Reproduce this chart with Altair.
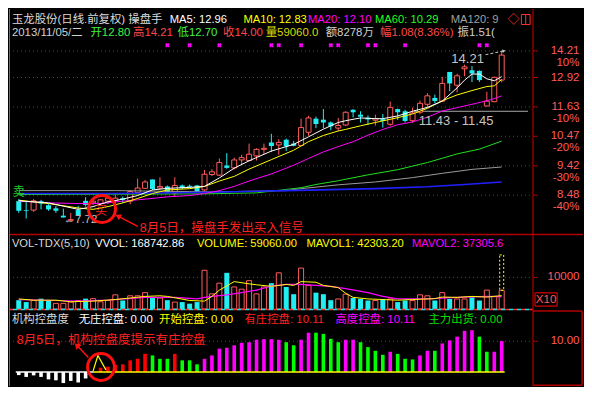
import altair as alt
import pandas as pd

# ---------------- data ----------------
opens = [8.30, 8.04, 8.04, 8.30, 8.18, 8.09, 7.88, 7.75, 8.04, 8.31,
         8.25, 8.23, 8.30, 8.32, 8.39, 8.30, 8.56, 8.69, 8.97, 8.70,
         8.75, 8.54, 8.78, 8.77, 8.78, 8.64, 9.13, 9.11, 9.43, 9.35,
         9.62, 9.60, 9.76, 9.99, 10.24, 10.15, 10.34, 10.20, 10.13, 10.62,
         11.15, 11.11, 11.00, 10.78, 10.90, 11.51, 11.31, 11.19, 11.09, 11.13,
         10.93, 11.54, 11.45, 11.07, 11.41, 11.74, 12.01, 11.87, 13.18, 12.57,
         13.33, 13.26, 13.23, 11.67, 11.85, 12.80]
highs = [8.36, 8.30, 8.36, 8.34, 8.21, 8.16, 8.08, 7.96, 8.16, 8.42,
         8.36, 8.36, 8.44, 8.51, 8.44, 8.64, 9.00, 8.95, 8.97, 9.04,
         8.78, 9.04, 8.81, 8.81, 8.80, 9.28, 9.31, 9.67, 9.86, 9.70,
         9.80, 10.20, 10.03, 10.20, 10.56, 10.36, 10.38, 10.30, 11.15, 11.27,
         11.23, 11.54, 11.04, 11.18, 11.45, 11.54, 11.45, 11.28, 11.31, 11.34,
         11.85, 11.56, 11.51, 11.60, 11.90, 12.22, 12.15, 12.95, 13.18, 13.10,
         13.53, 13.46, 13.25, 12.28, 12.96, 14.21]
lows = [7.96, 7.80, 7.99, 8.06, 8.02, 7.96, 7.83, 7.72, 7.87, 8.14,
        8.18, 8.18, 8.21, 8.14, 8.25, 8.21, 8.54, 8.67, 8.64, 8.66,
        8.54, 8.44, 8.67, 8.70, 8.56, 8.59, 9.08, 9.09, 9.32, 9.30,
        9.45, 9.57, 9.60, 9.83, 9.90, 9.80, 9.93, 10.10, 10.10, 10.49,
        10.78, 10.78, 10.70, 10.67, 10.86, 11.20, 11.00, 10.90, 10.88, 10.80,
        10.87, 11.10, 11.00, 10.98, 11.33, 11.60, 11.78, 11.85, 12.30, 12.25,
        12.98, 12.71, 12.72, 11.65, 11.83, 12.70]
closes = [8.02, 8.02, 8.31, 8.23, 8.06, 8.02, 7.83, 7.77, 7.90, 8.19,
          8.30, 8.34, 8.39, 8.39, 8.34, 8.59, 8.70, 8.89, 8.67, 8.75,
          8.56, 8.78, 8.70, 8.74, 8.59, 9.14, 9.22, 9.53, 9.35, 9.62,
          9.70, 9.82, 9.99, 10.03, 10.11, 10.24, 10.10, 10.12, 10.80, 11.18,
          10.94, 11.00, 10.85, 10.88, 11.41, 11.41, 11.23, 11.12, 11.15, 11.06,
          11.61, 11.41, 11.06, 11.38, 11.78, 12.10, 11.88, 12.65, 12.65, 13.00,
          13.42, 13.11, 12.80, 11.87, 12.93, 14.00]

ma5_idx = [0, 4, 8, 10, 12, 14, 16, 18, 20, 23, 25, 27, 29, 31, 34, 37, 39, 41, 43, 44,
           46, 48, 49, 51, 53, 55, 57, 59, 60, 61, 62, 63, 64, 65]
ma5_val = [8.31, 8.25, 8.06, 8.14, 8.28, 8.36, 8.47, 8.64, 8.69, 8.72, 8.75, 9.02, 9.34, 9.59,
           9.93, 10.17, 10.45, 10.74, 11.00, 11.07, 11.18, 11.15, 11.15, 11.26, 11.45, 11.61,
           11.87, 12.45, 12.80, 13.08, 13.08, 12.86, 12.77, 12.96]
ma10_idx = [0, 4, 8, 10, 12, 14, 16, 18, 20, 23, 25, 27, 29, 31, 34, 37, 39, 41, 43, 44,
            46, 48, 51, 53, 55, 57, 59, 61, 63, 64, 65]
ma10_val = [8.33, 8.23, 8.10, 8.06, 8.14, 8.25, 8.38, 8.53, 8.64, 8.68, 8.75, 8.92, 9.07, 9.31,
            9.63, 9.96, 10.27, 10.50, 10.67, 10.73, 10.87, 11.00, 11.19, 11.34, 11.57, 11.89,
            12.14, 12.33, 12.51, 12.54, 12.83]
ma20_idx = [0, 4, 8, 11, 14, 17, 20, 23, 25, 27, 29, 31, 34, 37, 39, 41, 43, 45, 47, 49,
            51, 53, 55, 57, 59, 61, 63, 64, 65]
ma20_val = [8.30, 8.25, 8.23, 8.23, 8.30, 8.36, 8.43, 8.47, 8.53, 8.62, 8.75, 8.92, 9.15, 9.44,
            9.67, 9.90, 10.09, 10.27, 10.51, 10.73, 10.91, 11.02, 11.21, 11.46, 11.60, 11.74,
            11.89, 11.98, 12.10]
ma60_idx = [0, 25, 32, 38, 40, 43, 47, 51, 55, 59, 62, 65]
ma60_val = [8.50, 8.52, 8.55, 8.71, 8.81, 8.93, 9.12, 9.29, 9.53, 9.83, 10.00, 10.29]
ma120_idx = [0, 13, 26, 36, 38, 43, 48, 53, 57, 61, 65]
ma120_val = [8.62, 8.62, 8.58, 8.62, 8.68, 8.80, 8.89, 9.03, 9.17, 9.30, 9.38]
ma250_idx = [0, 13, 26, 36, 42, 48, 55, 60, 65]
ma250_val = [8.53, 8.53, 8.57, 8.62, 8.65, 8.68, 8.74, 8.81, 8.89]

signal_idx = [20, 23, 27, 34, 35, 38, 42, 43, 47, 48, 52, 62, 63]
gap = [11.43, 11.45]
gap_start = 53.2
price_ticks = [14.21, 12.92, 11.63, 10.47, 9.42, 8.48]
price_pcts = ["10%", "", "-10%", "-20%", "-30%", "-40%"]

volumes = [2790, 2190, 2690, 3280, 2690, 1790, 1790, 2190, 2690, 3280,
           3280, 2290, 2690, 4480, 2690, 4180, 4180, 5170, 3480, 3480,
           2790, 2190, 2190, 1690, 2190, 12240, 4780, 8160, 11440, 6970,
           6270, 8960, 4780, 6970, 8160, 11440, 6970, 4680, 12940, 7460,
           5170, 4680, 2790, 3180, 4680, 3480, 3180, 2690, 2690, 3180,
           3180, 2190, 2690, 2690, 4480, 4180, 2690, 5170, 3180, 3180,
           3180, 3680, 2690, 5970, 3980, 5906]
vol_up = [0, 0, 1, 0, 0, 1, 1, 1, 1, 0, 1, 1, 1, 1, 0, 1, 1, 1, 0, 1,
          0, 1, 0, 0, 0, 1, 1, 1, 0, 1, 1, 1, 1, 1, 0, 1, 0, 0, 1, 1,
          0, 0, 0, 1, 1, 0, 0, 0, 1, 0, 1, 0, 0, 1, 1, 1, 0, 1, 0, 1,
          1, 0, 0, 1, 1, 1]
mv1_idx = [0, 2, 5, 7, 10, 13, 15, 17, 19, 20, 23, 25, 26, 27, 29, 31, 32, 34, 36, 37,
           38, 40, 41, 43, 44, 45, 47, 49, 51, 53, 56, 57, 59, 61, 63, 65]
mv1_val = [3180, 2790, 2790, 2290, 2490, 2990, 3480, 3980, 4180, 3980, 2690, 2490, 3980, 5970,
           8660, 7960, 7660, 7160, 7760, 7460, 8660, 8460, 7460, 6770, 4980, 3680, 3180, 2990,
           2790, 2990, 3280, 3780, 3680, 3980, 3780, 4230]
mv2_idx = [0, 5, 8, 12, 17, 21, 24, 25, 26, 28, 30, 32, 34, 36, 38, 40, 42, 44, 47, 49,
           51, 55, 59, 63, 65]
mv2_val = [2990, 2690, 2490, 2790, 3680, 3680, 3180, 3680, 3980, 4480, 5170, 5970, 7260, 7760,
           7760, 7460, 7160, 6470, 5170, 3980, 3180, 3180, 3680, 3980, 3900]
vol_proj = 17100
vol_ticks = [10000]

ctrl_vals = [-1.0, -1.6, -1.1, -1.6, -2.4, -2.7, -3.6, -2.9, -3.4, -2.1,
             0, 1.4, 1.75, 2.3, 2.5, 3.8, 4.3, 5.9, 5.4, 4.3,
             4.3, 5.9, 3.8, 3.8, 2.5, 4.3, 5.4, 7.6, 7.9, 8.7,
             9.5, 9.7, 10.5, 10.7, 10.7, 10.5, 9.7, 8.7, 10.5, 12.8,
             12.8, 12.4, 10.8, 9.7, 10.5, 10.5, 9.7, 8.1, 6.9, 5.6,
             6.6, 5.9, 4.3, 4.1, 5.4, 6.9, 6.9, 9.3, 10.3, 11.5,
             13.4, 13.6, 11.5, 6.6, 6.6, 10.11]
ctrl_kind = (["w"] * 10 + ["n"] + ["r"] * 7 + ["g"] * 3 + ["r"] + ["g"] * 3 + ["m"] * 11 +
             ["g"] * 2 + ["m"] * 2 + ["g"] * 4 + ["m"] * 2 + ["g"] * 4 + ["m"] + ["g"] * 3 +
             ["m"] * 2 + ["g"] + ["m"] * 5 + ["g"] * 2 + ["m"] * 2)
tri_x = [9.99, 10.65, 11.73]
tri_y = [0.2, 5.36, 0.7]
ctrl_ticks = [10.00]

# ---------------- styling ----------------
W = 524
H1, H2, H3 = 225, 75, 77
FONT = "Liberation Sans, Noto Sans CJK SC"
HS = 11.2  # header font size
UP = "#ff5c5c"
DN = "#22eef2"
GRID = "#c01818"
BORDER = "#b00000"
LBL = "#ff5a5a"
GRAYT = "#c4c4c4"
YEL = "#ffff00"
MAG = "#ff00ff"
GRN = "#22ff22"
RED = "#ff3030"
KIND_COL = {"w": "#ffffff", "r": "#ff0000", "g": "#00ff00", "m": "#ff00ff"}

XS = alt.Scale(domain=[-0.64, 68.54], nice=False, zero=False)
PS = alt.Scale(type="log", domain=[7.38, 16.51], nice=False)
VS = alt.Scale(domain=[0, 23720], nice=False, zero=False)
CS = alt.Scale(domain=[-4.55, 20.5], nice=False, zero=False)

ONE = pd.DataFrame({"k": [0]})


def X(f="i"):
    return alt.X(f"{f}:Q", scale=XS, axis=None)


def Y(f, sc):
    return alt.Y(f"{f}:Q", scale=sc, axis=None)


def txt(s, x, y, color, size=HS, align="left", **kw):
    return alt.Chart(ONE).mark_text(text=s, align=align, baseline="middle", fontSize=size,
                                    color=color, font=FONT, **kw).encode(
        x=alt.value(x), y=alt.value(y))


def seg(x1, y1, x2, y2, color, width=1, dash=None, **kw):
    m = dict(color=color, strokeWidth=width, **kw)
    if dash:
        m["strokeDash"] = dash
    return alt.Chart(ONE).mark_rule(**m).encode(
        x=alt.value(x1), y=alt.value(y1), x2=alt.value(x2), y2=alt.value(y2))


def head(x, y, ang, size=45, color=RED):
    return alt.Chart(ONE).mark_point(shape="triangle-up", filled=True, size=size, angle=ang,
                                     color=color, opacity=1).encode(x=alt.value(x), y=alt.value(y))


def ring(x, y, size):
    return alt.Chart(ONE).mark_point(shape="circle", filled=False, size=size, strokeWidth=3,
                                     color="#ff1010", opacity=1).encode(x=alt.value(x), y=alt.value(y))


def line_df(idx, val):
    return pd.DataFrame({"i": idx, "v": val})


N = len(closes)
cd = pd.DataFrame({"i": list(range(N)), "o": opens, "h": highs, "l": lows, "c": closes})
cd["up"] = cd["c"] >= cd["o"]
up_df = cd[cd["up"]]
dn_df = cd[~cd["up"]]

# ---------------- price panel ----------------
pt = pd.DataFrame({"v": price_ticks, "lab": [f"{v:.2f}" for v in price_ticks], "pct": price_pcts})
grid1 = alt.Chart(pt).mark_rule(color=GRID, strokeDash=[1, 3]).encode(
    y=Y("v", PS), x=alt.value(0), x2=alt.value(W))
gap_df = pd.DataFrame({"x1": [gap_start], "x2": [68.54], "v": [gap[1]]})
gapline = alt.Chart(gap_df).mark_rule(color="#a8a8a8").encode(
    x=X("x1"), x2=alt.X2("x2"), y=Y("v", PS))


def ma(idx, val, color, w=1.0):
    return alt.Chart(line_df(idx, val)).mark_line(color=color, strokeWidth=w).encode(
        x=X(), y=Y("v", PS))


wick_up = alt.Chart(up_df).mark_rule(color=UP).encode(x=X(), y=Y("l", PS), y2=alt.Y2("h"))
wick_dn = alt.Chart(dn_df).mark_rule(color=DN).encode(x=X(), y=Y("l", PS), y2=alt.Y2("h"))
body_up = alt.Chart(up_df).mark_bar(size=5, fill="black", stroke=UP, strokeWidth=1).encode(
    x=X(), y=Y("o", PS), y2=alt.Y2("c"))
body_dn = alt.Chart(dn_df).mark_bar(size=5, color=DN).encode(
    x=X(), y=Y("o", PS), y2=alt.Y2("c"))

signals = alt.Chart(pd.DataFrame({"i": signal_idx})).mark_point(
    shape="cross", filled=True, size=22, angle=45, color=MAG, opacity=1).encode(
    x=X(), y=alt.value(36.2))

plab = alt.Chart(pt).mark_text(align="right", baseline="middle", fontSize=11.5, color=LBL,
                               font=FONT).encode(y=Y("v", PS), x=alt.value(570.5), text="lab:N")
ppct = alt.Chart(pt).mark_text(align="right", baseline="middle", fontSize=11.5, color=LBL,
                               font=FONT, dy=12).encode(y=Y("v", PS), x=alt.value(570.5),
                                                        text="pct:N")
ptick = alt.Chart(pt).mark_rule(color=BORDER).encode(
    y=Y("v", PS), x=alt.value(W), x2=alt.value(W + 5))

price_layers = [
    grid1, gapline,
    wick_up, wick_dn, body_up, body_dn,
    ma(ma120_idx, ma120_val, "#9a9a9a"),
    ma(ma60_idx, ma60_val, "#20e020"),
    ma(ma250_idx, ma250_val, "#2020ff", 1.6),
    ma(ma20_idx, ma20_val, MAG),
    ma(ma10_idx, ma10_val, YEL),
    ma(ma5_idx, ma5_val, "#ffffff"),
    signals,
    # header
    txt("玉龙股份(日线.前复权) 操盘手", 2.9, 10.5, "#dcdcdc", 11.4),
    txt("MA5: 12.96", 160.8, 10.5, "#ffffff"),
    txt("MA10: 12.83", 234.4, 10.5, YEL),
    txt("MA20: 12.10", 299.0, 10.5, MAG),
    txt("MA60: 10.29", 366.0, 10.5, GRN),
    txt("MA120: 9.38", 441.7, 10.5, "#a0a0a0", limit=52, ellipsis=" "),
    txt("◇", 504.6, 10.5, RED, 12, "center"),
    txt("2013/11/05/二", 2.9, 24.3, "#d0d0d0", 11.4),
    txt("开12.80", 81.4, 24.3, "#40f040", 11.4),
    txt("高14.21", 124.0, 24.3, "#ff4848", 11.4),
    txt("低12.70", 168.5, 24.3, "#40f040", 11.4),
    txt("收14.00", 214.0, 24.3, "#ff4848", 11.4),
    txt("量59060.0", 256.7, 24.3, "#d8d800", 11.4),
    txt("额8278万", 316.7, 24.3, "#d0d0d0", 11.4),
    txt("幅1.08(8.36%)", 371.0, 24.3, "#ff4848", 11.4),
    txt("振1.51(1.18%)", 448.5, 24.3, "#d0d0d0", 11.4, limit=45, ellipsis=" "),
    # annotations
    txt("14.21", 458.6, 49.6, GRAYT, 13, "center"),
    seg(476.5, 45.7, 494.0, 42.1, GRAYT, 1, [3, 2]),
    head(495.0, 41.9, 78, 14, GRAYT),
    txt("11.43 - 11.45", 409.7, 111.5, GRAYT, 13),
    txt("←7.72", 54.5, 210.5, GRAYT, 11.5),
    txt("卖", 9.7, 183.0, "#20d020", 12, "center"),
    txt("买", 92.0, 202.0, "#ff2020", 12, "center"),
    ring(93.0, 200.0, 730),
    seg(128.8, 217.3, 111.0, 208.1, "#ff1010", 1.5),
    head(109.0, 207.0, 298, 45, "#ff1010"),
    txt("8月5日，操盘手发出买入信号", 130.8, 219.2, "#ff2020", 12.5),
    # axis side
    plab, ppct, ptick,
    seg(W, 0, W, H1, BORDER, 1.2),
    seg(0.5, 0, 0.5, H1, "#707070", 1),
    seg(512.4, 5.5, 521.1, 5.5, RED, 1), seg(512.4, 15.5, 521.1, 15.5, RED, 1),
    seg(512.4, 5.5, 512.4, 15.5, RED, 1), seg(521.1, 5.5, 521.1, 15.5, RED, 1),
    seg(516.7, 5.5, 516.7, 15.5, RED, 1),
]
price = alt.layer(*price_layers).properties(width=W, height=H1)

# ---------------- volume panel ----------------
vd = pd.DataFrame({"i": list(range(N)), "v": volumes, "up": vol_up})
vd["b"] = 0
vup = vd[vd["up"] == 1]
vdn = vd[vd["up"] == 0]
vt = pd.DataFrame({"v": vol_ticks, "lab": [str(v) for v in vol_ticks]})
proj = pd.DataFrame({"i": [N - 1], "v": [volumes[-1]], "t": [vol_proj]})

vol_layers = [
    alt.Chart(vt).mark_rule(color=GRID, strokeDash=[1, 3]).encode(
        y=Y("v", VS), x=alt.value(0), x2=alt.value(W)),
    alt.Chart(vup).mark_bar(size=5, fill="black", stroke=UP, strokeWidth=1).encode(
        x=X(), y=Y("v", VS), y2=alt.Y2("b")),
    alt.Chart(vdn).mark_bar(size=5, color=DN).encode(
        x=X(), y=Y("v", VS), y2=alt.Y2("b")),
    alt.Chart(proj).mark_bar(size=4, fillOpacity=0, stroke=YEL, strokeWidth=1,
                             strokeDash=[2, 2]).encode(x=X(), y=Y("v", VS), y2=alt.Y2("t")),
    alt.Chart(line_df(mv2_idx, mv2_val)).mark_line(color=MAG, strokeWidth=1.2).encode(
        x=X(), y=Y("v", VS)),
    alt.Chart(line_df(mv1_idx, mv1_val)).mark_line(color=YEL, strokeWidth=1).encode(
        x=X(), y=Y("v", VS)),
    txt("VOL-TDX(5,10)", 2.9, 10, "#d8d8d8"),
    txt("VVOL: 168742.86", 86.2, 10, "#ffffff"),
    txt("VOLUME: 59060.00", 187.9, 10, YEL),
    txt("MAVOL1: 42303.20", 297.4, 10, YEL),
    txt("MAVOL2: 37305.6", 403.0, 10, MAG),
    alt.Chart(vt).mark_text(align="right", baseline="middle", fontSize=11.5, color=LBL,
                            font=FONT).encode(y=Y("v", VS), x=alt.value(570.5), text="lab:N"),
    alt.Chart(vt).mark_rule(color=BORDER).encode(y=Y("v", VS), x=alt.value(W), x2=alt.value(W + 5)),
    seg(0, 0.5, 574, 0.5, BORDER, 1.5),
    seg(W, 0, W, H2, BORDER, 1.2),
    seg(0.5, 0, 0.5, H2, "#707070", 1),
    seg(526, 58.8, 548.2, 58.8, BORDER, 1.5), seg(526, 72.1, 548.2, 72.1, BORDER, 1.5),
    seg(526, 58.8, 526, 72.1, BORDER, 1.5), seg(548.2, 58.8, 548.2, 72.1, BORDER, 1.5),
    txt("X10", 537.1, 65.6, LBL, 11.5, "center"),
]
vol = alt.layer(*vol_layers).properties(width=W, height=H2)

# ---------------- control-degree panel ----------------
kd = pd.DataFrame({"i": list(range(N)), "v": ctrl_vals, "k": ctrl_kind})
kd = kd[kd["k"] != "n"].copy()
kd["col"] = kd["k"].map(KIND_COL)
kd["b"] = 0
ct = pd.DataFrame({"v": ctrl_ticks, "lab": [f"{v:.2f}" for v in ctrl_ticks]})
base = pd.DataFrame({"x1": [-0.4, 9.99], "x2": [9.99, 65.4], "v": [0, 0],
                     "col": ["#ffffff", YEL]})

ctrl_layers = [
    alt.Chart(ct).mark_rule(color=GRID, strokeDash=[1, 3]).encode(
        y=Y("v", CS), x=alt.value(0), x2=alt.value(W)),
    alt.Chart(kd).mark_bar(size=3.6).encode(
        x=X(), y=Y("v", CS), y2=alt.Y2("b"), color=alt.Color("col:N", scale=None)),
    alt.Chart(base).mark_rule(strokeWidth=1.5).encode(
        x=X("x1"), x2=alt.X2("x2"), y=Y("v", CS), color=alt.Color("col:N", scale=None)),
    alt.Chart(pd.DataFrame({"i": tri_x, "v": tri_y})).mark_line(color=YEL, strokeWidth=1.2).encode(
        x=X(), y=Y("v", CS)),
    txt("机构控盘度", 2.9, 10.5, "#d8d8d8", 11.4),
    txt("无庄控盘: 0.00", 69.7, 10.5, "#ffffff", 11.4),
    txt("开始控盘: 0.00", 150.1, 10.5, YEL, 11.4),
    txt("有庄控盘: 10.11", 235.4, 10.5, "#ff2020", 11.4),
    txt("高度控盘: 10.11", 326.4, 10.5, MAG, 11.4),
    txt("主力出货: 0.00", 419.4, 10.5, "#00e000", 11.4),
    txt("8月5日，机构控盘度提示有庄控盘", 7.7, 31.4, "#ff2020", 12.5),
    seg(79.4, 48.5, 69.0, 37.6, "#ff1010", 1.5),
    head(67.8, 36.3, 317, 45, "#ff1010"),
    ring(92.0, 58.0, 720),
    alt.Chart(ct).mark_text(align="right", baseline="middle", fontSize=11.5, color=LBL,
                            font=FONT).encode(y=Y("v", CS), x=alt.value(570.5), text="lab:N"),
    alt.Chart(ct).mark_rule(color=BORDER).encode(y=Y("v", CS), x=alt.value(W), x2=alt.value(W + 5)),
    seg(0, 0.5, W, 0.5, "#ff3030", 1.5, [4, 4]),
    seg(0, 0.5, W, 0.5, "#20e0e0", 1.5, [4, 4], strokeDashOffset=4),
    seg(W, 1.9, 573.1, 1.9, BORDER, 1.5), seg(W, 76.3, 573.1, 76.3, BORDER, 1.5),
    seg(573.1, 1.9, 573.1, 76.3, BORDER, 1.5),
    seg(W, 0, W, H3, BORDER, 1.2),
    seg(0.5, 0, 0.5, H3, "#707070", 1),
]
ctrl = alt.layer(*ctrl_layers).properties(width=W, height=H3)

chart = (
    alt.vconcat(price, vol, ctrl, spacing=0, bounds="flush")
    .resolve_scale(x="independent", y="independent")
    .properties(background="black", padding=0)
    .configure_view(stroke=None)
)

chart.save("out.html", embed_options={"renderer": "svg", "actions": False})
